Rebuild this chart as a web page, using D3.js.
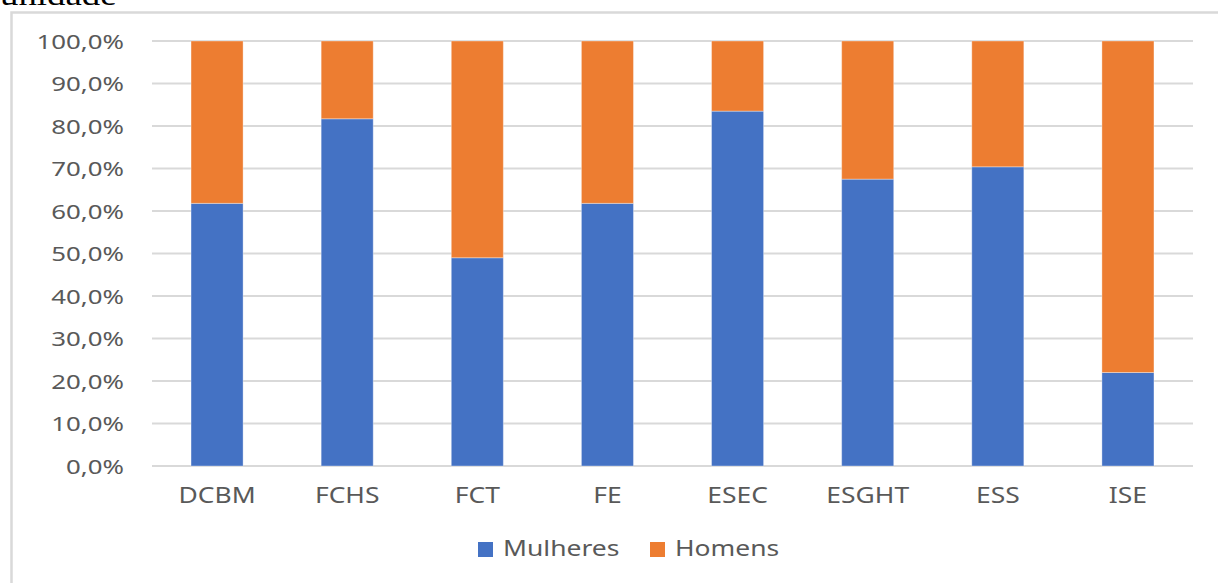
<!DOCTYPE html>
<html><head><meta charset="utf-8">
<script src="https://cdn.jsdelivr.net/npm/d3@7"></script>
<style>html,body{margin:0;padding:0;background:#fff;overflow:hidden}</style>
</head><body>
<svg id="c" width="1218" height="583"></svg>
<script>
const categories = ["DCBM","FCHS","FCT","FE","ESEC","ESGHT","ESS","ISE"];
const mulheres = [61.8, 81.7, 49.0, 61.8, 83.5, 67.5, 70.4, 22.0];
const homens   = [38.2, 18.3, 51.0, 38.2, 16.5, 32.5, 29.6, 78.0];
const seriesNames = ["Mulheres","Homens"];
const yTicks = [0,10,20,30,40,50,60,70,80,90,100];
const colors = ["#4472c4","#ed7d31"];

const svg = d3.select("#c");
const SX = 1.26;
const fmt = v => d3.format(".1f")(v).replace(".", ",") + "%";

// clipped caption above chart
svg.append("text").attr("transform","translate(0,5) scale(1.27,1)")
  .attr("font-family","Liberation Serif").attr("font-size",29).attr("fill","#000").text("unidade");

// chart border
svg.append("path").attr("d","M11.5,583 V12.5 H1218").attr("fill","none").attr("stroke","#d9d9d9").attr("stroke-width",2.5);

const x = d3.scaleBand().domain(categories).range([152,1193]).paddingInner(0.6).paddingOuter(0.3);
const y = d3.scaleLinear().domain([0,100]).range([466,41]);

// gridlines
svg.append("g").selectAll("line").data(yTicks).join("line")
  .attr("x1",152).attr("x2",1193).attr("y1",d=>y(d)).attr("y2",d=>y(d))
  .attr("stroke","#d9d9d9").attr("stroke-width",2);

// y labels
svg.append("g").selectAll("text").data(yTicks).join("text")
  .attr("transform",d=>`translate(124,${y(d)+7.5}) scale(${SX},1)`)
  .attr("text-anchor","end").attr("font-family","Noto Sans").attr("font-size",20.5)
  .attr("fill","#595959").text(fmt);

// stacked bars
const rows = categories.map((c,i)=>({cat:c, Mulheres:mulheres[i], Homens:homens[i]}));
const stack = d3.stack().keys(seriesNames)(rows);
svg.append("g").selectAll("g").data(stack).join("g").attr("fill",(d,i)=>colors[i])
  .selectAll("rect").data(d=>d).join("rect")
  .attr("x",d=>x(d.data.cat)).attr("width",x.bandwidth())
  .attr("y",d=>y(d[1])).attr("height",d=>y(d[0])-y(d[1]))
  .attr("stroke","#ffffff").attr("stroke-opacity",0.35).attr("stroke-width",1);

// x labels
svg.append("g").selectAll("text").data(categories).join("text")
  .attr("transform",d=>`translate(${x(d)+x.bandwidth()/2},503) scale(${SX},1)`)
  .attr("text-anchor","middle").attr("font-family","Noto Sans").attr("font-size",21)
  .attr("fill","#595959").text(d=>d);

// legend
const legX = [478, 650];
const lg = svg.append("g").selectAll("g").data(seriesNames).join("g")
  .attr("transform",(d,i)=>`translate(${legX[i]},0)`);
lg.append("rect").attr("x",0).attr("y",542).attr("width",15).attr("height",15).attr("fill",(d,i)=>colors[i]);
lg.append("text").attr("transform",`translate(25,556) scale(${SX},1)`)
  .attr("font-family","Noto Sans").attr("font-size",21).attr("fill","#595959").text(d=>d);
</script>
</body></html>
